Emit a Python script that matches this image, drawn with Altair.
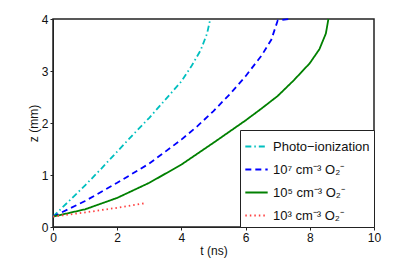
import altair as alt
import pandas as pd

series_names = ["Photo\u2212ionization", "10\u2077 cm\u207b\u00b3 O\u2082\u207b", "10\u2075 cm\u207b\u00b3 O\u2082\u207b", "10\u00b3 cm\u207b\u00b3 O\u2082\u207b"]

photo_t = [0.0, 0.5, 1.0, 1.5, 2.0, 2.5, 3.0, 3.5, 4.0, 4.3, 4.6, 4.8, 4.9]
photo_z = [0.2, 0.5, 0.8, 1.12, 1.45, 1.78, 2.1, 2.45, 2.8, 3.08, 3.4, 3.72, 4.0]

o7_t = [0.0, 0.5, 1.0, 2.0, 3.0, 4.0, 4.5, 5.0, 5.5, 6.0, 6.5, 6.8, 7.0, 7.35]
o7_z = [0.2, 0.35, 0.5, 0.85, 1.22, 1.68, 1.94, 2.23, 2.55, 2.9, 3.3, 3.6, 3.97, 4.0]

o5_t = [0.0, 1.0, 2.0, 3.0, 4.0, 5.0, 6.0, 6.5, 7.0, 7.5, 8.0, 8.3, 8.5, 8.58]
o5_z = [0.2, 0.34, 0.56, 0.85, 1.2, 1.62, 2.05, 2.28, 2.52, 2.82, 3.15, 3.42, 3.72, 4.0]

o3_t = [0.0, 1.0, 2.0, 2.9]
o3_z = [0.2, 0.28, 0.37, 0.46]

colors = ["#00BFBF", "#0000FF", "#008000", "#FF4040"]
dashes = [[6, 3, 1.5, 3], [6, 4], [1, 0], [1.5, 3]]

t_ticks = [0, 2, 4, 6, 8, 10]
z_ticks = [0, 1, 2, 3, 4]

rows = []
for name, ts, zs in zip(series_names, [photo_t, o7_t, o5_t, o3_t], [photo_z, o7_z, o5_z, o3_z]):
    for t, z in zip(ts, zs):
        rows.append({"series": name, "t": t, "z": z})
df = pd.DataFrame(rows)

font = "Liberation Sans"

common_axis = dict(domain=True, domainColor="#222", domainWidth=1, grid=False,
                   ticks=True, tickSize=3, tickColor="#222", tickWidth=1,
                   labelFlush=False, format="d",
                   labelFont=font, labelFontSize=12, labelColor="#111",
                   titleFont=font, titleFontSize=12, titleFontWeight="normal", titleColor="#111")

lines = alt.Chart(df).mark_line(strokeWidth=1.8).encode(
    x=alt.X("t:Q", scale=alt.Scale(domain=[0, 10], nice=False),
            axis=alt.Axis(values=t_ticks, title="t (ns)", labelPadding=2, titlePadding=2, **common_axis)),
    y=alt.Y("z:Q", scale=alt.Scale(domain=[0, 4], nice=False),
            axis=alt.Axis(values=z_ticks, title=["", "z (mm)"], titleLineHeight=14,
                          labelPadding=2, titlePadding=1, **common_axis)),
    color=alt.Color("series:N", scale=alt.Scale(domain=series_names, range=colors),
                    sort=series_names,
                    legend=alt.Legend(title=None, orient="bottom-right", offset=0,
                                      strokeColor="#222", fillColor="white",
                                      padding=4, symbolType="stroke", symbolSize=500,
                                      symbolStrokeWidth=1.8,
                                      labelFont=font, labelFontSize=13, labelColor="#111",
                                      labelOffset=4, rowPadding=3, labelLimit=200)),
    strokeDash=alt.StrokeDash("series:N", scale=alt.Scale(domain=series_names, range=dashes),
                              sort=series_names, legend=alt.Legend(title=None)),
)

chart = lines.properties(
    width=321, height=208,
).configure_view(stroke="#222", strokeWidth=1.5)

chart.save("out.html", embed_options={"renderer": "svg", "actions": False})
